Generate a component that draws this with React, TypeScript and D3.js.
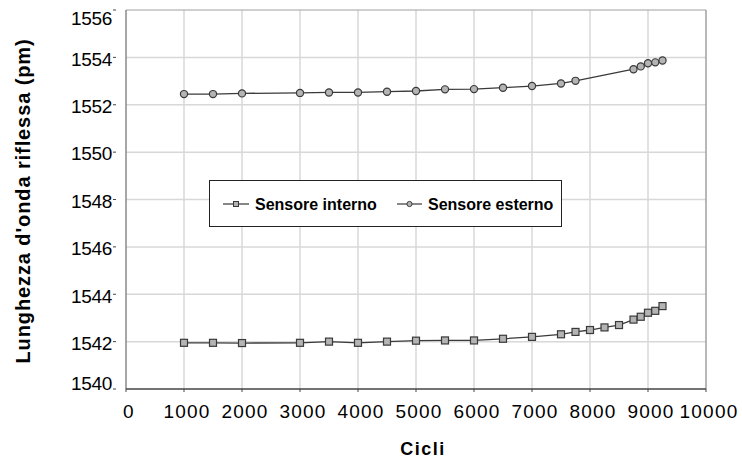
import React from "react";
import * as d3 from "d3";

const xInterno = [1000, 1500, 2000, 3000, 3500, 4000, 4500, 5000, 5500, 6000, 6500, 7000, 7500, 7750, 8000, 8250, 8500, 8750, 8875, 9000, 9125, 9250];
const yInterno = [1541.95, 1541.95, 1541.94, 1541.95, 1542.0, 1541.95, 1542.0, 1542.04, 1542.05, 1542.05, 1542.12, 1542.2, 1542.31, 1542.41, 1542.49, 1542.6, 1542.7, 1542.93, 1543.05, 1543.22, 1543.3, 1543.5];
const xEsterno = [1000, 1500, 2000, 3000, 3500, 4000, 4500, 5000, 5500, 6000, 6500, 7000, 7500, 7750, 8750, 8875, 9000, 9125, 9250];
const yEsterno = [1552.45, 1552.45, 1552.48, 1552.5, 1552.52, 1552.52, 1552.55, 1552.58, 1552.65, 1552.66, 1552.72, 1552.79, 1552.9, 1553.01, 1553.5, 1553.62, 1553.75, 1553.79, 1553.87];
const xTicks = [0, 1000, 2000, 3000, 4000, 5000, 6000, 7000, 8000, 9000, 10000];
const yTicks = [1540, 1542, 1544, 1546, 1548, 1550, 1552, 1554, 1556];
const seriesNames = ["Sensore interno", "Sensore esterno"];

export default function App() {
  const W = 742, H = 462;
  const left = 126, right = 706, top = 10, bottom = 389;
  const x = d3.scaleLinear().domain([0, 10000]).range([left, right]);
  const y = d3.scaleLinear().domain([1540, 1556]).range([bottom, top]);
  const line = d3.line<[number, number]>().x(d => x(d[0])).y(d => y(d[1]));
  const intPts: [number, number][] = xInterno.map((v, i) => [v, yInterno[i]]);
  const estPts: [number, number][] = xEsterno.map((v, i) => [v, yEsterno[i]]);
  const lineColor = "#3a3a3a";
  const markFill = "#b4b4b4";
  const font = "Arial, 'Liberation Sans', sans-serif";

  return (
    <svg width={W} height={H} style={{ position: "absolute", left: 0, top: 0, background: "#fff" }} fontFamily={font}>
      <rect x={0} y={0} width={W} height={H} fill="#fff" />
      {/* grid */}
      {xTicks.filter(t => t > 0 && t < 10000).map(t => (
        <line key={"gx" + t} x1={x(t)} x2={x(t)} y1={top} y2={bottom} stroke="#d8d8d8" strokeWidth={1.5} />
      ))}
      {yTicks.filter(t => t > 1540 && t < 1556).map(t => (
        <line key={"gy" + t} x1={left} x2={right} y1={y(t)} y2={y(t)} stroke="#d8d8d8" strokeWidth={1.5} />
      ))}
      {/* frame */}
      <line x1={left} x2={right} y1={top} y2={top} stroke="#a0a0a0" strokeWidth={1} />
      <line x1={right} x2={right} y1={top} y2={bottom} stroke="#a0a0a0" strokeWidth={1.5} />
      <line x1={left} x2={left} y1={top} y2={bottom} stroke="#8a8a8a" strokeWidth={1.5} />
      <line x1={left} x2={right} y1={bottom} y2={bottom} stroke="#444" strokeWidth={1.5} />
      {/* x ticks */}
      {xTicks.map(t => (
        <g key={"xt" + t}>
          <line x1={x(t)} x2={x(t)} y1={bottom} y2={bottom + 3} stroke="#444" strokeWidth={1} />
          <text x={x(t) + 3} y={418} textAnchor="middle" fontSize={19} letterSpacing={1.2} fill="#000">{t}</text>
        </g>
      ))}
      {/* y ticks */}
      {yTicks.map(t => {
        const ty = y(t);
        const cy = Math.min(Math.max(ty + 1.5, 18), 383);
        return (
          <g key={"yt" + t}>
            <line x1={113} x2={116} y1={ty} y2={ty} stroke="#444" strokeWidth={1} />
            <text x={112} y={cy} dy="0.36em" textAnchor="end" fontSize={19} letterSpacing={-0.3} fill="#000">{t}</text>
          </g>
        );
      })}
      {/* series */}
      <path d={line(intPts) || ""} fill="none" stroke={lineColor} strokeWidth={1.3} />
      <path d={line(estPts) || ""} fill="none" stroke={lineColor} strokeWidth={1.3} />
      {intPts.map((p, i) => (
        <rect key={"s" + i} x={x(p[0]) - 3.5} y={y(p[1]) - 3.5} width={7} height={7} fill={markFill} stroke={lineColor} strokeWidth={1.2} />
      ))}
      {estPts.map((p, i) => (
        <circle key={"c" + i} cx={x(p[0])} cy={y(p[1])} r={3.6} fill={markFill} stroke={lineColor} strokeWidth={1.2} />
      ))}
      {/* legend */}
      <rect x={209.5} y={180.5} width={352} height={46} fill="#fff" stroke="#222" strokeWidth={1} />
      <line x1={223} x2={249} y1={204} y2={204} stroke={lineColor} strokeWidth={1.2} />
      <rect x={233.5} y={201.5} width={5} height={5} fill={markFill} stroke={lineColor} strokeWidth={1} />
      <text x={255} y={210} fontSize={16} fontWeight="bold" fill="#000">{seriesNames[0]}</text>
      <line x1={397} x2={422} y1={204} y2={204} stroke={lineColor} strokeWidth={1.2} />
      <circle cx={409.5} cy={204} r={2.6} fill={markFill} stroke={lineColor} strokeWidth={1} />
      <text x={428} y={210} fontSize={16} fontWeight="bold" fill="#000">{seriesNames[1]}</text>
      {/* axis titles */}
      <text x={423} y={455} textAnchor="middle" fontSize={18} fontWeight="bold" letterSpacing={1.5} fill="#000">Cicli</text>
      <text transform={`translate(30,201) rotate(-90)`} textAnchor="middle" fontSize={20} fontWeight="bold" letterSpacing={0.9} fill="#000">Lunghezza d'onda riflessa (pm)</text>
    </svg>
  );
}
